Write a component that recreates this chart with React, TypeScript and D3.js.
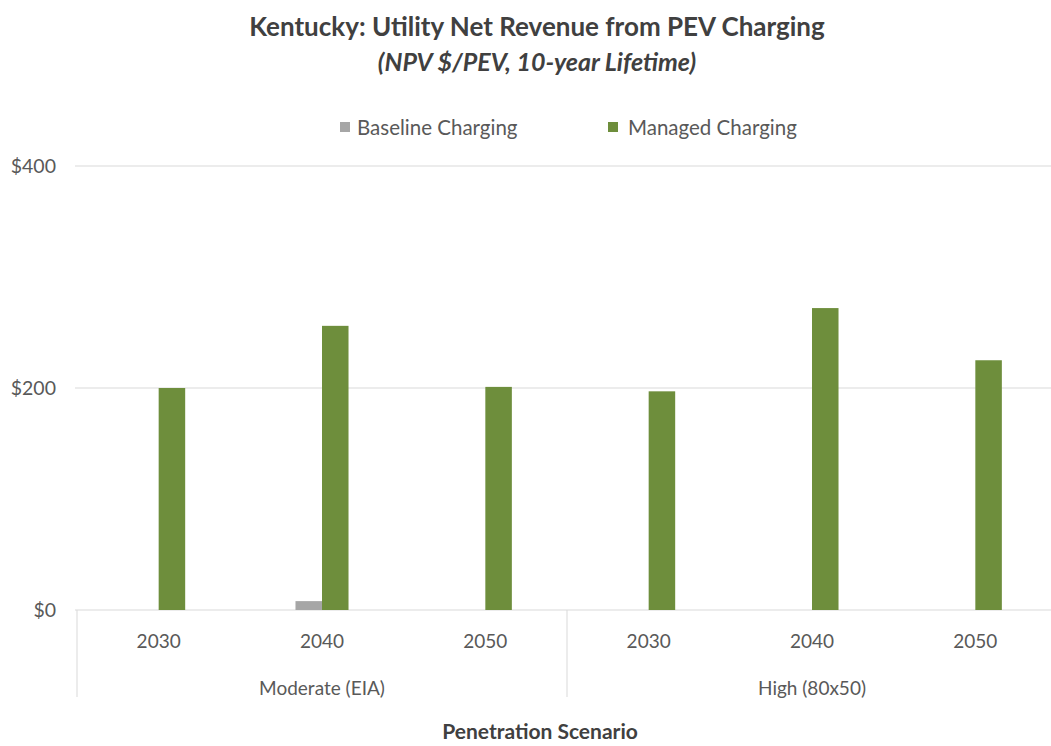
import * as d3 from 'd3'
import React from 'react'

const years = ['2030', '2040', '2050', '2030', '2040', '2050']
const scenarios = ['Moderate (EIA)', 'High (80x50)']
const baseline = [0, 8, 0, 0, 0, 0]
const managed = [200, 256, 201, 197, 272, 225]
const yTicks = [0, 200, 400]
const seriesNames = ['Baseline Charging', 'Managed Charging']
const seriesColors = ['#a6a6a6', '#6e8e3c']

const W = 1051, H = 746
const font = 'Lato, "Open Sans", sans-serif'

export default function App() {
  const
    left = 77,
    right = 1057,
    x0 = d3.scaleBand<number>().domain(d3.range(years.length)).range([left, right]),
    x1 = d3.scaleBand<string>().domain(seriesNames).range([0, x0.bandwidth()]).paddingOuter(2.08),
    y = d3.scaleLinear().domain([0, 400]).range([610, 166]),
    groupW = (right - left) / scenarios.length,
    values = [baseline, managed]

  return (
    <svg width={W} height={H} style={{ position: 'absolute', left: 0, top: 0, background: '#fff' }} fontFamily={font}>
      <text x={537} y={36} textAnchor='middle' fontSize={26} fontWeight={700} fill='#404040'>
        Kentucky: Utility Net Revenue from PEV Charging
      </text>
      <text x={537} y={71} textAnchor='middle' fontSize={25} fontWeight={700} fontStyle='italic' fill='#404040'>
        (NPV $/PEV, 10-year Lifetime)
      </text>

      {/* legend */}
      <g fontSize={20.5} fill='#595959'>
        <rect x={340} y={122} width={10} height={10} fill={seriesColors[0]} />
        <text x={357} y={135}>{seriesNames[0]}</text>
        <rect x={608} y={122} width={10} height={10} fill={seriesColors[1]} />
        <text x={628} y={135}>{seriesNames[1]}</text>
      </g>

      {/* grid + y axis */}
      {yTicks.map(t => (
        <g key={t}>
          <line x1={75} x2={W} y1={y(t)} y2={y(t)} stroke='#d9d9d9' strokeWidth={1} />
          <text x={56} y={y(t)} dy='0.35em' textAnchor='end' fontSize={19.5} fill='#595959'>${t}</text>
        </g>
      ))}

      {/* bars */}
      {values.map((vals, s) => vals.map((v, i) => (
        <rect key={`${s}-${i}`} x={x0(i)! + x1(seriesNames[s])!} y={y(v)} width={x1.bandwidth()}
          height={y(0) - y(v)} fill={seriesColors[s]} />
      )))}

      {/* category axis */}
      {d3.range(scenarios.length + 1).map(g => (
        <line key={g} x1={left + g * groupW} x2={left + g * groupW} y1={610} y2={697} stroke='#d9d9d9' />
      ))}
      {years.map((yr, i) => (
        <text key={i} x={x0(i)! + x0.bandwidth() / 2} y={648} textAnchor='middle' fontSize={19} fill='#595959'>{yr}</text>
      ))}
      {scenarios.map((sc, g) => (
        <text key={sc} x={left + (g + 0.5) * groupW} y={695} textAnchor='middle' fontSize={19} fill='#595959'>{sc}</text>
      ))}
      <text x={540} y={739} textAnchor='middle' fontSize={21} fontWeight={700} fill='#404040'>Penetration Scenario</text>
    </svg>
  )
}
